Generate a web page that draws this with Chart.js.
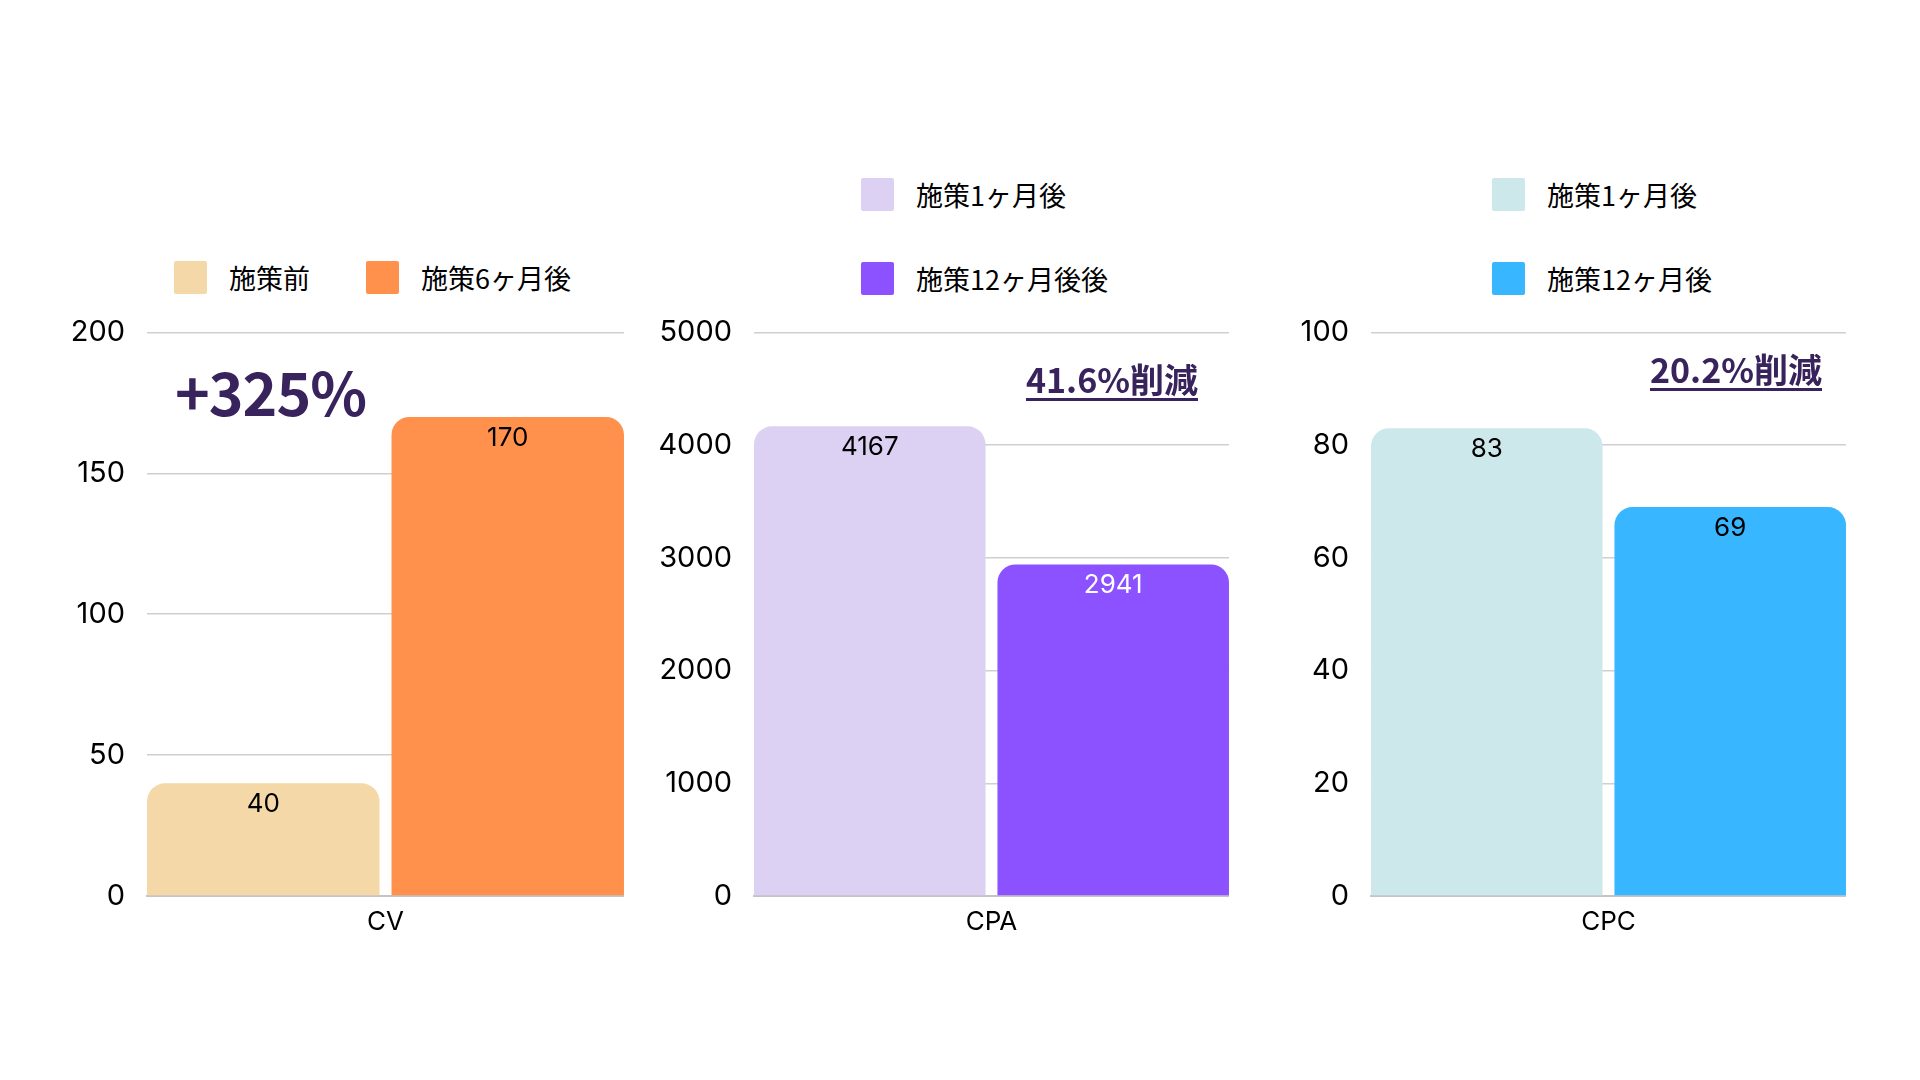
<!doctype html>
<html>
<head>
  <meta charset="utf-8" />
  <title>施策効果 CV / CPA / CPC</title>
  <script src="https://cdn.jsdelivr.net/npm/chart.js"></script>
  <style>
    body { margin: 0; width: 1920px; height: 1080px; position: relative; overflow: hidden; background: #fff; font-family: "Noto Sans CJK JP", sans-serif; }
    .box { position: absolute; }
    .legend { position: absolute; display: flex; font-size: 27px; color: #000; }
    .legend .item { display: flex; align-items: center; height: 34px; white-space: nowrap; }
    .legend .sw { width: 33px; height: 33px; border-radius: 2px; margin-right: 22px; }
    .row { flex-direction: row; gap: 56px; }
    .col { flex-direction: column; gap: 50px; }
    .note { position: absolute; color: #38235c; font-weight: 700; line-height: 1; white-space: nowrap; }
    .under { text-decoration: underline; text-decoration-thickness: 3px; text-underline-offset: 5px; }
  </style>
</head>
<body>
  <div id="lg1" class="legend row" style="left:174px; top:260px;"></div>
  <div id="lg2" class="legend col" style="left:861px; top:177px;"></div>
  <div id="lg3" class="legend col" style="left:1492px; top:177px;"></div>

  <div class="box" style="left:37px; top:293px; width:587px; height:653px;"><canvas id="c1"></canvas></div>
  <div class="box" style="left:644px; top:293px; width:585px; height:653px;"><canvas id="c2"></canvas></div>
  <div class="box" style="left:1261px; top:293px; width:585px; height:653px;"><canvas id="c3"></canvas></div>

  <div class="note" style="left:175px; top:361px; font-size:59px; letter-spacing:-1px;">+325%</div>
  <div class="note under" style="left:1026px; top:362px; font-size:34px;">41.6%削減</div>
  <div class="note under" style="left:1650px; top:352px; font-size:34px;">20.2%削減</div>

<script>
  // CV
  const cvLabels = ['CV'];
  const cvSeries = ['施策前', '施策6ヶ月後'];
  const cvValues = [40, 170];
  const cvColors = ['#F5D8A8', '#FF914D'];
  const cvTextColors = ['#000', '#000'];
  const cvMax = 200, cvStep = 50;

  // CPA
  const cpaLabels = ['CPA'];
  const cpaSeries = ['施策1ヶ月後', '施策12ヶ月後後'];
  const cpaValues = [4167, 2941];
  const cpaColors = ['#DCD0F3', '#8C52FF'];
  const cpaTextColors = ['#000', '#fff'];
  const cpaMax = 5000, cpaStep = 1000;

  // CPC
  const cpcLabels = ['CPC'];
  const cpcSeries = ['施策1ヶ月後', '施策12ヶ月後'];
  const cpcValues = [83, 69];
  const cpcColors = ['#CDE8EA', '#38B6FF'];
  const cpcTextColors = ['#000', '#000'];
  const cpcMax = 100, cpcStep = 20;

  const numFont = 'Inter';

  // 棒の上端付近に値を描く
  const valueLabels = {
    id: 'valueLabels',
    afterDatasetsDraw(chart) {
      const ctx = chart.ctx;
      ctx.save();
      ctx.font = '400 26px ' + numFont;
      ctx.textAlign = 'center';
      ctx.textBaseline = 'middle';
      chart.data.datasets.forEach((ds, i) => {
        chart.getDatasetMeta(i).data.forEach((bar, j) => {
          ctx.fillStyle = ds.valueColor;
          ctx.fillText(ds.data[j], bar.x, bar.y + 21);
        });
      });
      ctx.restore();
    }
  };

  function makeChart(canvasId, legendId, labels, series, values, colors, textColors, max, step) {
    const datasets = series.map((name, i) => ({
      label: name,
      data: [values[i]],
      backgroundColor: colors[i],
      valueColor: textColors[i],
      borderRadius: 18,
      borderSkipped: 'start',
      categoryPercentage: 1.025,
      barPercentage: 0.951
    }));

    const chart = new Chart(document.getElementById(canvasId), {
      type: 'bar',
      data: { labels: labels, datasets: datasets },
      options: {
        responsive: true,
        maintainAspectRatio: false,
        animation: false,
        layout: { padding: { top: 32, left: 0, right: 0, bottom: 0 } },
        plugins: { legend: { display: false }, tooltip: { enabled: false } },
        scales: {
          x: {
            grid: { display: false, drawTicks: false },
            border: { display: true, color: '#c4c4c4', width: 2 },
            ticks: { color: '#000', font: { family: numFont, size: 26 }, padding: 11 },
            afterFit: s => { s.height = 50; }
          },
          y: {
            min: 0,
            max: max,
            ticks: {
              stepSize: step,
              color: '#000',
              font: { family: numFont, size: 29 },
              padding: 22,
              callback: v => String(v)
            },
            grid: { color: '#cfcfcf', lineWidth: 1.5, drawTicks: false },
            border: { display: false },
            afterFit: s => { s.width = 110; }
          }
        }
      },
      plugins: [valueLabels]
    });

    // 凡例はデータセットから作る
    const lg = document.getElementById(legendId);
    chart.data.datasets.forEach(ds => {
      const item = document.createElement('div');
      item.className = 'item';
      const sw = document.createElement('span');
      sw.className = 'sw';
      sw.style.background = ds.backgroundColor;
      const tx = document.createElement('span');
      tx.textContent = ds.label;
      item.appendChild(sw);
      item.appendChild(tx);
      lg.appendChild(item);
    });
    return chart;
  }

  document.fonts.load('26px ' + numFont).finally(() => {
    makeChart('c1', 'lg1', cvLabels, cvSeries, cvValues, cvColors, cvTextColors, cvMax, cvStep);
    makeChart('c2', 'lg2', cpaLabels, cpaSeries, cpaValues, cpaColors, cpaTextColors, cpaMax, cpaStep);
    makeChart('c3', 'lg3', cpcLabels, cpcSeries, cpcValues, cpcColors, cpcTextColors, cpcMax, cpcStep);
  });
</script>
</body>
</html>
